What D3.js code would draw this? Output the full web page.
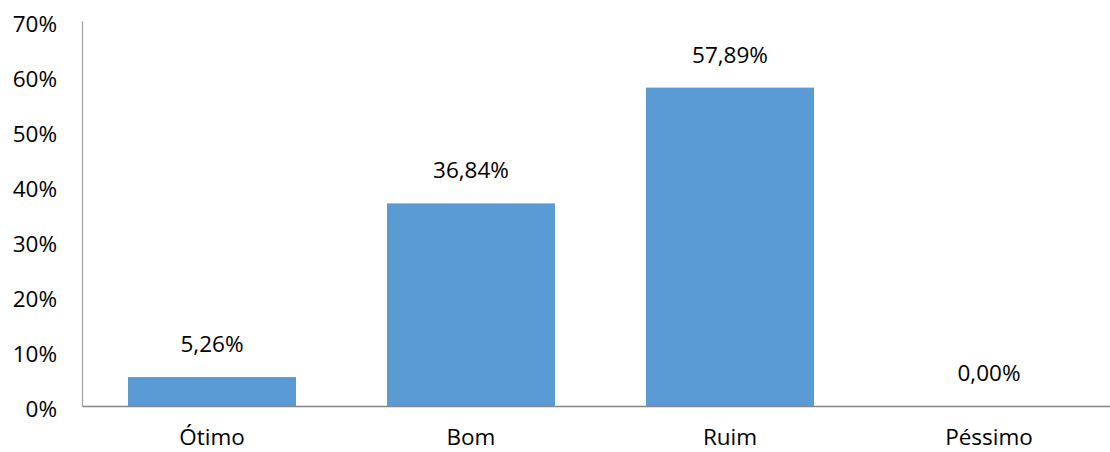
<!DOCTYPE html>
<html>
<head>
<meta charset="utf-8">
<script src="https://cdn.jsdelivr.net/npm/d3@7"></script>
<style>
  html, body { margin: 0; padding: 0; background: #fff; }
  svg text { font-family: "Open Sans", "Noto Sans", sans-serif; fill: #000; }
</style>
</head>
<body>
<svg id="chart" width="1110" height="452"></svg>
<script>
const categories = ['Ótimo', 'Bom', 'Ruim', 'Péssimo'];
const values = [5.26, 36.84, 57.89, 0.00];
const yTicks = [0, 10, 20, 30, 40, 50, 60, 70];

const svg = d3.select('#chart');
const width = 1110, height = 452;
const margin = { top: 21, bottom: 46, left: 82 };
const fontSize = '22.5px';

// band step ~259px, bars ~168px wide; plot runs off the right edge like the original
const xScale = d3.scaleBand()
  .domain(categories)
  .range([margin.left, margin.left + 1037])
  .paddingInner(0.3514)
  .paddingOuter(0.1776);

const yScale = d3.scaleLinear()
  .domain([0, 70])
  .range([height - margin.bottom, margin.top]);

// y axis line + labels
const yAxis = svg.append('g')
  .attr('transform', `translate(${margin.left}, 0)`)
  .call(d3.axisLeft(yScale).tickValues(yTicks).tickSize(0).tickPadding(25).tickFormat(d => `${d}%`));
yAxis.select('.domain').attr('stroke', '#A6A6A6').attr('stroke-width', 1.3);
yAxis.selectAll('text')
  .attr('dy', '0.45em')
  .style('font-family', '"Open Sans", sans-serif')
  .style('font-size', fontSize);

// bars
svg.selectAll('.bar')
  .data(values)
  .enter()
  .append('rect')
  .attr('class', 'bar')
  .attr('x', (d, i) => xScale(categories[i]))
  .attr('y', d => yScale(d))
  .attr('width', xScale.bandwidth())
  .attr('height', d => yScale(0) - yScale(d))
  .attr('fill', '#5B9BD5');

// value labels
svg.selectAll('.value-label')
  .data(values)
  .enter()
  .append('text')
  .attr('class', 'value-label')
  .attr('x', (d, i) => xScale(categories[i]) + xScale.bandwidth() / 2)
  .attr('y', d => yScale(d) - 25)
  .attr('text-anchor', 'middle')
  .style('font-size', fontSize)
  .text(d => d.toFixed(2).replace('.', ',') + '%');

// x axis line + labels
const xAxis = svg.append('g')
  .attr('transform', `translate(0, ${yScale(0)})`)
  .call(d3.axisBottom(xScale).tickSize(0).tickPadding(23));
xAxis.select('.domain').attr('stroke', '#868686').attr('stroke-width', 1.3);
xAxis.selectAll('text')
  .style('font-family', '"Open Sans", sans-serif')
  .style('font-size', fontSize);
</script>
</body>
</html>
